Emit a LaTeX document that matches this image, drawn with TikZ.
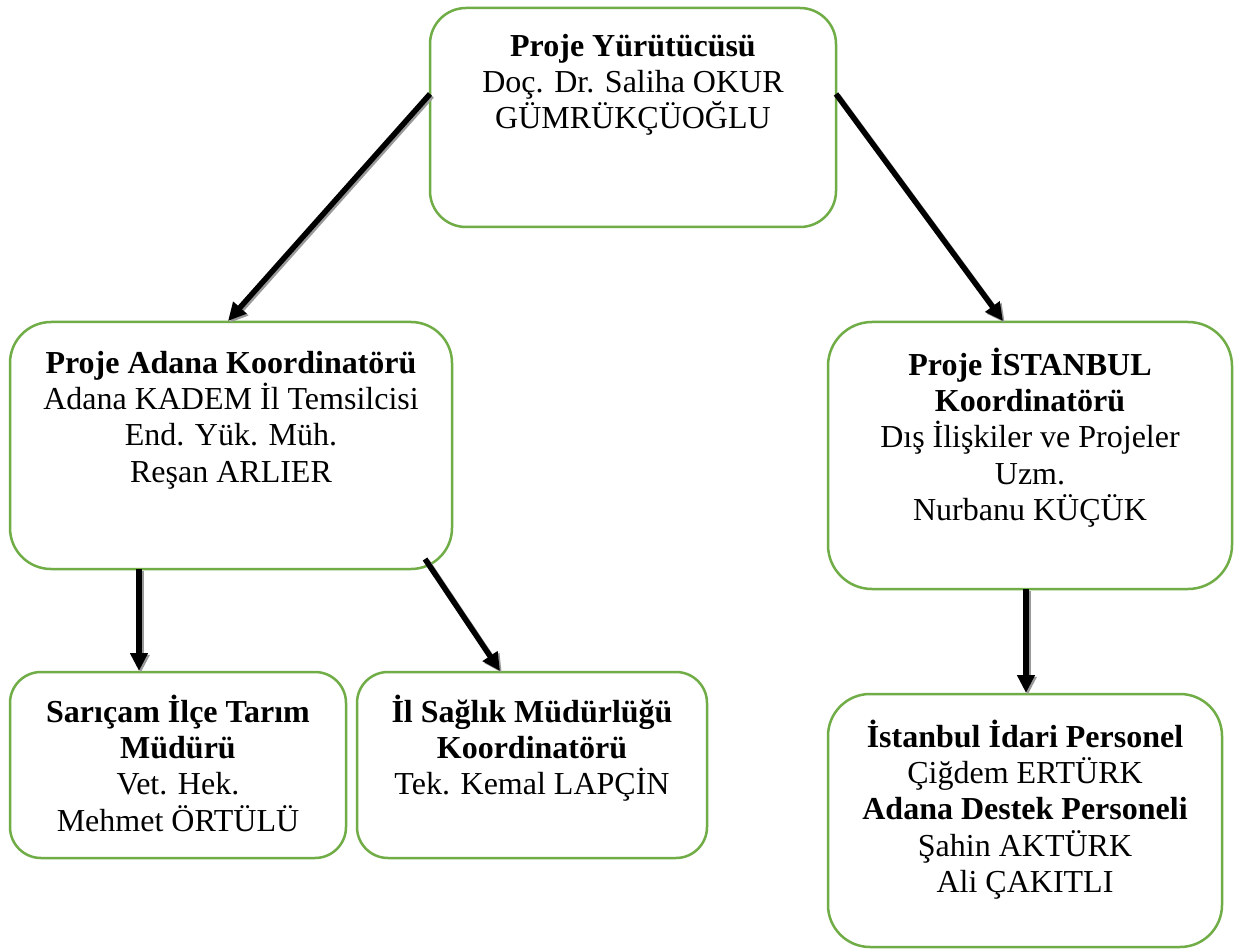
\documentclass[tikz,border=0pt]{standalone}
\usepackage{fontspec}
\setmainfont{Liberation Serif}
\usetikzlibrary{arrows.meta}
\definecolor{boxgreen}{HTML}{70AD47}
\newcommand\mystrut{\rule{0pt}{32pt}}
\tikzset{
  orgbox/.style={draw=boxgreen, line width=2.5pt, rounded corners=#1, rectangle, inner sep=0pt},
  txt/.style={anchor=north, inner sep=0pt, align=center, font=\fontsize{32}{36.3}\selectfont},
  arr/.style={line width=5.5pt, black, -{Triangle[length=18pt,width=17pt]}},
  arrshadow/.style={line width=5.5pt, black!40, -{Triangle[length=18pt,width=17pt]}}
}
\begin{document}
\begin{tikzpicture}[x=1pt,y=-1pt]
\useasboundingbox[fill=white] (0,0) rectangle (1239,949);
% boxes
\node[orgbox=36pt, minimum width=406pt, minimum height=219pt] (b1) at (633,117.5) {};
\node[orgbox=41pt, minimum width=442pt, minimum height=247pt] (b2) at (231,445.5) {};
\node[orgbox=44pt, minimum width=404pt, minimum height=267pt] (b3) at (1030,455.5) {};
\node[orgbox=31pt, minimum width=336pt, minimum height=186pt] (b4) at (178,765) {};
\node[orgbox=31pt, minimum width=350pt, minimum height=186pt] (b5) at (532,765) {};
\node[orgbox=42pt, minimum width=394pt, minimum height=253pt] (b6) at (1025,820.5) {};
% texts
\node[txt] (t1) at (633,24) {\mystrut\textbf{Proje Yürütücüsü}\\Doç. Dr. Saliha OKUR\\GÜMRÜKÇÜOĞLU};
\node[txt] (t2) at (231,341) {\mystrut\textbf{Proje Adana Koordinatörü}\\Adana KADEM İl Temsilcisi\\End. Yük. Müh.\\Reşan ARLIER};
\node[txt] (t3) at (1030,343) {\mystrut\textbf{Proje İSTANBUL}\\\textbf{Koordinatörü}\\Dış İlişkiler ve Projeler\\Uzm.\\Nurbanu KÜÇÜK};
\node[txt] (t4) at (178,690) {\mystrut\textbf{Sarıçam İlçe Tarım}\\\textbf{Müdürü}\\Vet. Hek.\\Mehmet ÖRTÜLÜ};
\node[txt] (t5) at (532,690) {\mystrut\textbf{İl Sağlık Müdürlüğü}\\\textbf{Koordinatörü}\\Tek. Kemal LAPÇİN};
\node[txt] (t6) at (1025,715) {\mystrut\textbf{İstanbul İdari Personel}\\Çiğdem ERTÜRK\\\textbf{Adana Destek Personeli}\\Şahin AKTÜRK\\Ali ÇAKITLI};
% connector end points
\coordinate (s1) at (430,94);
\coordinate (e1) at (228,321);
\coordinate (s2) at (836,94);
\coordinate (e2) at (1003,321);
\coordinate (s3) at (139,569);
\coordinate (e3) at (139,671);
\coordinate (s4) at (425,559);
\coordinate (e4) at (500,671);
\coordinate (s5) at (1026,589);
\coordinate (e5) at (1026,693);
% arrows
\foreach \i in {1,...,5}{
  \draw[arrshadow] ([shift={(1.8,1.8)}]s\i) -- ([shift={(1.8,1.8)}]e\i);
}
\foreach \i in {1,...,5}{
  \draw[arr] (s\i) -- (e\i);
}
\end{tikzpicture}
\end{document}
